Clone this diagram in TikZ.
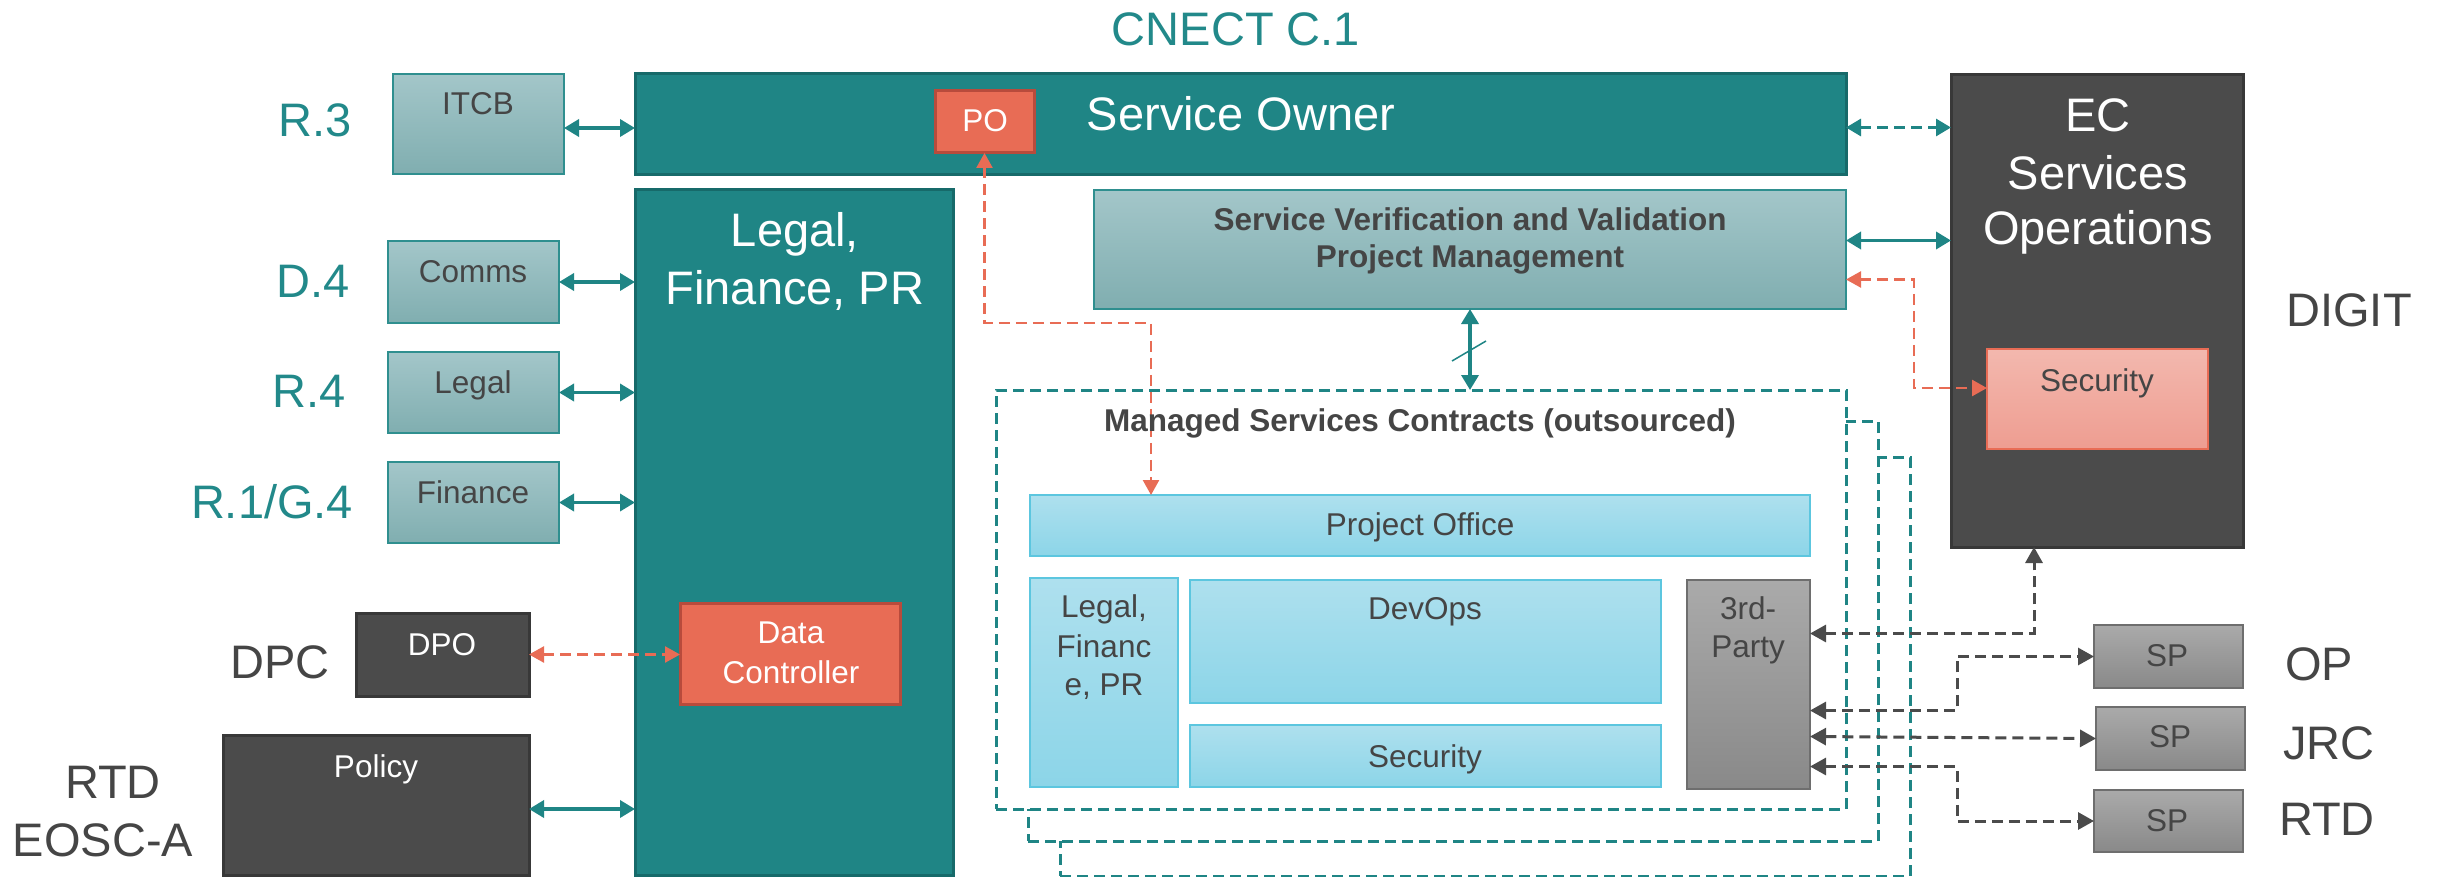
\documentclass[tikz,border=0pt]{standalone}
\usepackage{fontspec}
\setmainfont{Liberation Sans}
\usetikzlibrary{arrows.meta,fit,calc}
\definecolor{tealc}{HTML}{1F8585}
\definecolor{tealdk}{HTML}{176A6A}
\definecolor{tealtxt}{HTML}{22898A}
\definecolor{ltop}{HTML}{A3C6C9}
\definecolor{lbot}{HTML}{80AEB0}
\definecolor{lbrd}{HTML}{2F8F8F}
\definecolor{dgray}{HTML}{4B4B4B}
\definecolor{dgrayb}{HTML}{383838}
\definecolor{orng}{HTML}{E86C55}
\definecolor{orngb}{HTML}{B84B3C}
\definecolor{stop}{HTML}{F3B8AE}
\definecolor{sbot}{HTML}{EE9D91}
\definecolor{ctop}{HTML}{AEE0EE}
\definecolor{cbot}{HTML}{8CD5E8}
\definecolor{cbrd}{HTML}{5CC6DF}
\definecolor{gtop}{HTML}{AAAAAA}
\definecolor{gbot}{HTML}{898989}
\definecolor{gbrd}{HTML}{6E6E6E}
\definecolor{dtxt}{HTML}{454545}
\newcommand\myBig{\fontsize{47}{57}\selectfont}
\newcommand\mySmall{\fontsize{31.5}{38}\selectfont}
\tikzset{
  bx/.style={inner sep=0pt, outer sep=0pt},
  tealbox/.style={bx, fill=tealc, draw=tealdk, line width=3pt},
  litebox/.style={bx, top color=ltop, bottom color=lbot, draw=lbrd, line width=2pt},
  darkbox/.style={bx, fill=dgray, draw=dgrayb, line width=3pt},
  orngbox/.style={bx, fill=orng, draw=orngb, line width=3pt},
  secbox/.style={bx, top color=stop, bottom color=sbot, draw=orng, line width=2pt},
  cyanbox/.style={bx, top color=ctop, bottom color=cbot, draw=cbrd, line width=2pt},
  graybox/.style={bx, top color=gtop, bottom color=gbot, draw=gbrd, line width=2pt},
  framebox/.style={bx, fill=white, draw=tealc, line width=3pt, dash pattern=on 11pt off 6pt},
  lbl/.style={font=\myBig, text=tealtxt, anchor=base, inner sep=0pt},
  glbl/.style={font=\myBig, text=dtxt, anchor=base, inner sep=0pt},
  wbig/.style={font=\myBig, text=white, anchor=base, inner sep=0pt},
  wsm/.style={font=\mySmall, text=white, anchor=base, inner sep=0pt},
  dsm/.style={font=\mySmall, text=dtxt, anchor=base, inner sep=0pt},
  dsmb/.style={font=\mySmall\bfseries, text=dtxt, anchor=base, inner sep=0pt},
  tarr/.style={draw=tealc, line width=3.5pt, {Triangle[length=15pt,width=17pt]}-{Triangle[length=15pt,width=17pt]}},
  tdarr/.style={draw=tealc, line width=3pt, dash pattern=on 11pt off 6pt, {Triangle[length=15pt,width=17pt]}-{Triangle[length=15pt,width=17pt]}},
  odarr/.style={draw=orng, line width=2.5pt, dash pattern=on 11pt off 6pt, {Triangle[length=15pt,width=16pt]}-{Triangle[length=15pt,width=16pt]}},
  gdarr/.style={draw=dgray, line width=3pt, dash pattern=on 11pt off 6pt, {Triangle[length=16pt,width=17pt]}-{Triangle[length=16pt,width=17pt]}},
}
\begin{document}
\begin{tikzpicture}[x=1pt,y=-1pt]
\fill[white] (0,0) rectangle (2440,877);
\useasboundingbox (0,0) rectangle (2440,877);

% ---- left column boxes
\node[litebox, fit={(393,74) (564,174)}] (itcb) {};
\node[litebox, fit={(388,241) (559,323)}] (comms) {};
\node[litebox, fit={(388,352) (559,433)}] (legal) {};
\node[litebox, fit={(388,462) (559,543)}] (fin) {};
\node[darkbox, fit={(356,613) (529,696)}] (dpo) {};
\node[darkbox, fit={(223,735) (529,875)}] (policy) {};

% ---- central teal boxes
\node[tealbox, fit={(635,74) (1846,175)}] (so) {};
\node[orngbox, fit={(935,91) (1034,153)}] (po) {};
\node[tealbox, fit={(635,190) (953,875)}] (lfp) {};
\node[orngbox, fit={(680,603) (900,704)}] (dc) {};
\node[litebox, fit={(1094,190) (1846,309)}] (vv) {};

% ---- DIGIT
\node[darkbox, fit={(1951,75) (2243,547)}] (ec) {};
\node[secbox, fit={(1987,349) (2208,449)}] (secd) {};

% ---- managed services (stacked frames)
\node[framebox, fit={(1060,457) (1910,876)}] (fr3) {};
\node[framebox, fit={(1028,421) (1878,841)}] (fr2) {};
\node[framebox, fit={(996,390) (1846,809)}] (msc) {};
\node[cyanbox, fit={(1030,495) (1810,556)}] (pof) {};
\node[cyanbox, fit={(1030,578) (1178,787)}] (lfp2) {};
\node[cyanbox, fit={(1190,580) (1661,703)}] (devops) {};
\node[cyanbox, fit={(1190,725) (1661,787)}] (seci) {};
\node[graybox, fit={(1687,580) (1810,789)}] (third) {};

% ---- service providers
\node[graybox, fit={(2094,625) (2243,688)}] (sp1) {};
\node[graybox, fit={(2096,707) (2245,770)}] (sp2) {};
\node[graybox, fit={(2094,790) (2243,852)}] (sp3) {};

% ---- texts
\node[lbl] (tcnect) at (1236,46) {CNECT C.1};
\node[lbl] (tr3) at (315,137) {R.3};
\node[lbl] (td4) at (313,297) {D.4};
\node[lbl] (tr4) at (309,407) {R.4};
\node[lbl] (tr1) at (272,518) {R.1/G.4};
\node[glbl] (tdpc) at (280,678) {DPC};
\node[glbl] (trtd) at (113,798) {RTD};
\node[glbl] (teosc) at (103,856) {EOSC-A};
\node[glbl] (tdigit) at (2349,326) {DIGIT};
\node[glbl] (top) at (2319,680) {OP};
\node[glbl] (tjrc) at (2329,759) {JRC};
\node[glbl] (trtd2) at (2327,835) {RTD};

\node[wbig] (tso) at (1241,131) {Service Owner};
\node[wbig] (tlfp1) at (795,247) {Legal,};
\node[wbig] (tlfp2) at (795,305) {Finance, PR};
\node[wbig] (tec1) at (2098,132) {EC};
\node[wbig] (tec2) at (2098,190) {Services};
\node[wbig] (tec3) at (2098,245) {Operations};

\node[dsm] (titcb) at (478,115) {ITCB};
\node[dsm] (tcomms) at (473,282) {Comms};
\node[dsm] (tlegal) at (473,393) {Legal};
\node[dsm] (tfin) at (473,503) {Finance};
\node[wsm] (tpo) at (985,132) {PO};
\node[wsm] (tdpo) at (442,655) {DPO};
\node[wsm] (tdc1) at (791,643) {Data};
\node[wsm] (tdc2) at (791,683) {Controller};
\node[wsm] (tpol) at (376,777) {Policy};
\node[dsmb] (tvv1) at (1470,231) {Service Verification and Validation};
\node[dsmb] (tvv2) at (1470,268) {Project Management};
\node[dsm] (tsecd) at (2097,391) {Security};
\node[dsm] (tpof) at (1420,535) {Project Office};
\node[dsm] (tl1) at (1104,617) {Legal,};
\node[dsm] (tl2) at (1104,657) {Financ};
\node[dsm] (tl3) at (1104,695) {e, PR};
\node[dsm] (tdev) at (1425,619) {DevOps};
\node[dsm] (tseci) at (1425,767) {Security};
\node[dsm] (t3a) at (1748,619) {3rd-};
\node[dsm] (t3b) at (1748,657) {Party};
\node[dsm] (tsp1) at (2167,666) {SP};
\node[dsm] (tsp2) at (2170,747) {SP};
\node[dsm] (tsp3) at (2167,831) {SP};

% ---- connectors (left)
\draw[tarr] ([yshift=-4pt]itcb.east) -- ([yshift=-4pt]itcb.east -| so.west);
\draw[tarr] (comms.east) -- (comms.east -| lfp.west);
\draw[tarr] (legal.east) -- (legal.east -| lfp.west);
\draw[tarr] (fin.east) -- (fin.east -| lfp.west);
\draw[odarr] (dpo.east) -- (dpo.east -| dc.west);
\draw[tarr] ([yshift=-4pt]policy.east) -- ([yshift=-4pt]policy.east -| lfp.west);

% ---- connectors (right)
\draw[tdarr] ([yshift=-3pt]so.east) -- ([yshift=-3pt]so.east -| ec.west);
\draw[tarr] ([yshift=9pt]vv.east) -- ([yshift=9pt]vv.east -| ec.west);
\draw[odarr] ([yshift=-30pt]vv.east) -- ++(68,0) |- ([yshift=11pt]secd.west);

% ---- PO to project office
\draw[odarr] (po.south) -- ++(0,170) -| ([xshift=121pt]pof.north west);

% ---- V&V to managed services
\draw[tarr] (vv.south) -- (vv.south |- msc.north);
\coordinate (slash) at (1469,351);
\draw[draw=tealc, line width=1.5pt] ($(slash)+(-17,10)$) -- ($(slash)+(17,-10)$);

% ---- 3rd party connectors
\draw[gdarr] ([yshift=51pt]third.east) -| ([xshift=83pt]ec.south west);
\draw[gdarr] ([yshift=-26pt]third.east) -- ++(147,0) |- (sp1.west);
\draw[gdarr] ([yshift=-52pt]third.east) -- (sp2.west);
\draw[gdarr] ([yshift=-82pt]third.east) -- ++(147,0) |- (sp3.west);

\node[dsmb] (tmsc) at (1420,431) {Managed Services Contracts (outsourced)};
\end{tikzpicture}
\end{document}
